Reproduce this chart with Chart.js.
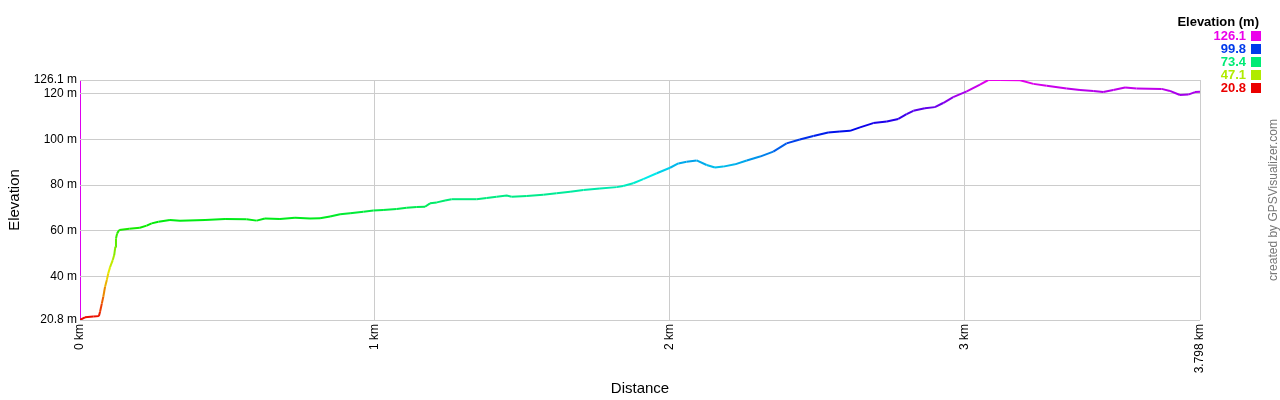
<!DOCTYPE html>
<html>
<head>
<meta charset="utf-8">
<title>Elevation profile</title>
<script src="https://cdn.jsdelivr.net/npm/chart.js@4/dist/chart.umd.min.js"></script>
<style>
  html, body { margin: 0; padding: 0; background: #fff; }
  #wrap { width: 1280px; height: 400px; position: relative; }
</style>
</head>
<body>
<div id="wrap"><canvas id="profile"></canvas></div>
<script>
// Data
const distanceKm = [
  0, 0.017, 0.045, 0.064, 0.068, 0.074, 0.079, 0.085, 0.091, 0.096,
  0.102, 0.111, 0.116, 0.120, 0.122, 0.126, 0.133, 0.167, 0.203, 0.226,
  0.243, 0.266, 0.305, 0.339, 0.424, 0.492, 0.565, 0.599, 0.627, 0.678,
  0.729, 0.780, 0.814, 0.848, 0.882, 0.916, 0.961, 0.995, 1.028, 1.074,
  1.108, 1.142, 1.170, 1.187, 1.210, 1.238, 1.260, 1.345, 1.379, 1.413,
  1.447, 1.464, 1.515, 1.571, 1.616, 1.662, 1.707, 1.763, 1.820, 1.842,
  1.876, 1.910, 1.956, 2.001, 2.029, 2.057, 2.091, 2.125, 2.153, 2.181,
  2.221, 2.261, 2.306, 2.351, 2.396, 2.441, 2.487, 2.537, 2.577, 2.611,
  2.645, 2.690, 2.736, 2.775, 2.803, 2.826, 2.865, 2.899, 2.927, 2.961,
  3.007, 3.052, 3.080, 3.120, 3.188, 3.233, 3.278, 3.346, 3.391, 3.436,
  3.470, 3.504, 3.544, 3.583, 3.668, 3.696, 3.730, 3.758, 3.781, 3.798
];
const elevationM = [
  20.8, 22.0, 22.3, 22.5, 24.4, 28.0, 31.0, 35.4, 38.4, 41.3,
  44.0, 47.1, 49.3, 53.0, 56.6, 58.8, 60.3, 60.8, 61.3, 62.2,
  63.2, 63.9, 64.7, 64.4, 64.7, 65.1, 65.0, 64.4, 65.3, 65.1,
  65.7, 65.3, 65.4, 66.2, 67.2, 67.6, 68.3, 68.8, 69.1, 69.5,
  70.1, 70.4, 70.5, 72.0, 72.4, 73.2, 73.8, 73.8, 74.3, 74.9,
  75.4, 74.9, 75.2, 75.8, 76.4, 77.1, 77.8, 78.5, 79.1, 79.6,
  80.8, 82.6, 85.2, 87.6, 89.5, 90.2, 90.8, 88.8, 87.7, 88.1,
  89.1, 90.8, 92.5, 94.7, 98.3, 100.0, 101.5, 103.1, 103.5, 103.8,
  105.3, 107.2, 107.9, 109.0, 111.1, 112.6, 113.7, 114.2, 116.0, 118.6,
  121.1, 124.1, 126.1, 126.1, 126.0, 124.4, 123.6, 122.4, 121.7, 121.3,
  120.8, 121.7, 122.8, 122.4, 122.2, 121.3, 119.5, 119.7, 120.8, 120.9
];

const yTickValues = [20.8, 40, 60, 80, 100, 120, 126.1];
const xTickValues = [0, 1, 2, 3, 3.798];
const legendValues = [126.1, 99.8, 73.4, 47.1, 20.8];

const minElev = 20.8;
const maxElev = 126.1;

// red -> magenta along the hue wheel, by elevation
function elevColor(e) {
  const hue = (e - minElev) / (maxElev - minElev) * 300;
  return `hsl(${hue}, 100%, 46%)`;
}

const points = distanceKm.map((d, i) => ({ x: d, y: elevationM[i] }));

// legend + credit text
const extrasPlugin = {
  id: 'extras',
  afterDraw(chart) {
    const ctx = chart.ctx;
    ctx.save();
    ctx.font = 'bold 13px "Liberation Sans", Arial, sans-serif';
    ctx.fillStyle = '#000';
    ctx.textAlign = 'right';
    ctx.textBaseline = 'middle';
    ctx.fillText('Elevation (m)', 1259, 22);

    legendValues.forEach((v, i) => {
      const cy = 36 + i * 13;
      ctx.fillStyle = elevColor(v);
      ctx.fillText(v.toFixed(1), 1246, cy);
      ctx.fillRect(1251, cy - 5, 10, 10);
    });

    ctx.font = '12px "Liberation Sans", Arial, sans-serif';
    ctx.fillStyle = '#777';
    ctx.textAlign = 'center';
    ctx.translate(1274, 200);
    ctx.rotate(-Math.PI / 2);
    ctx.fillText('created by GPSVisualizer.com', 0, 0);
    ctx.restore();
  }
};

Chart.defaults.font.family = '"Liberation Sans", Arial, sans-serif';
Chart.defaults.color = '#000';

new Chart(document.getElementById('profile'), {
  type: 'line',
  data: {
    datasets: [{
      data: points,
      borderWidth: 2,
      pointRadius: 0,
      tension: 0,
      fill: false,
      segment: {
        borderColor: ctx => elevColor((ctx.p0.parsed.y + ctx.p1.parsed.y) / 2)
      }
    }]
  },
  options: {
    responsive: true,
    maintainAspectRatio: false,
    animation: false,
    layout: { padding: { top: 80, right: 80, left: 0, bottom: 0 } },
    plugins: {
      legend: { display: false },
      tooltip: { enabled: false }
    },
    scales: {
      x: {
        type: 'linear',
        min: 0,
        max: 3.798,
        afterBuildTicks: scale => { scale.ticks = xTickValues.map(v => ({ value: v })); },
        afterFit: scale => { scale.height = 80; },
        ticks: {
          autoSkip: false,
          minRotation: 90,
          maxRotation: 90,
          padding: 4,
          font: { size: 12 },
          callback: v => v + ' km'
        },
        grid: {
          drawTicks: false,
          lineWidth: 1,
          color: ctx => (ctx.tick && ctx.tick.value === 0) ? '#dd00ee' : '#cccccc'
        },
        border: { display: false },
        title: { display: true, text: 'Distance', font: { size: 15 }, padding: { top: 0, bottom: 2 } }
      },
      y: {
        min: 20.8,
        max: 126.1,
        afterBuildTicks: scale => { scale.ticks = yTickValues.map(v => ({ value: v })); },
        afterFit: scale => { scale.width = 80; },
        ticks: {
          autoSkip: false,
          padding: 3,
          font: { size: 12 },
          callback: v => v + ' m'
        },
        grid: { drawTicks: false, color: '#cccccc', lineWidth: 1 },
        border: { display: false },
        title: { display: true, text: 'Elevation', font: { size: 15 }, padding: { top: 6, bottom: 0 } }
      }
    }
  },
  plugins: [extrasPlugin]
});
</script>
</body>
</html>
